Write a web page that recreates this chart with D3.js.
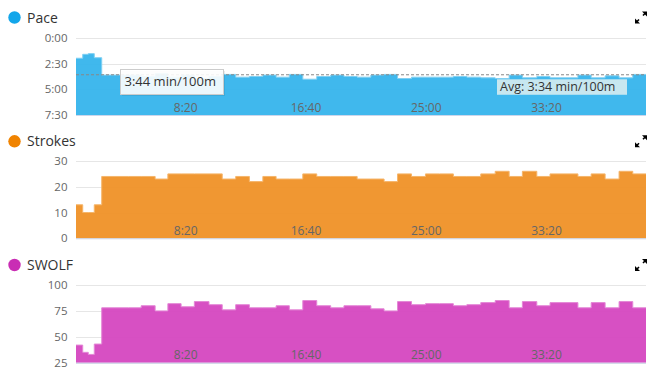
<!DOCTYPE html>
<html>
<head>
<meta charset="utf-8">
<script src="https://cdn.jsdelivr.net/npm/d3@7"></script>
<style>
  html, body { margin: 0; padding: 0; background: #fff; }
  svg { display: block; font-family: "Open Sans", "DejaVu Sans", sans-serif; }
</style>
</head>
<body>
<svg id="chart"></svg>
<script>
// Swim laps: duration of each lap (s), and per-lap pace / strokes / swolf
const startSec = 50;
const lapSeconds = [28, 23, 25, 31, 55, 56, 53, 58, 53, 55, 55, 61, 55, 56, 57, 56, 55, 55, 56, 58,
                    58, 55, 55, 57, 55, 56, 58, 58, 58, 58, 56, 58, 60, 58, 55, 60, 55, 58, 58, 55,
                    58, 58, 57, 55];
const paceSec = [117, 94, 90, 114, 216, 216, 216, 224, 208, 228, 216, 236, 224, 212, 228, 224, 216, 228, 212, 240,
                 224, 216, 224, 228, 216, 212, 236, 228, 228, 228, 224, 228, 232, 236, 216, 232, 224, 232, 232, 216,
                 232, 220, 232, 212];
const strokes = [13, 10, 10, 13, 24, 24, 24, 24, 23, 25, 25, 25, 25, 23, 24, 22, 24, 23, 23, 25,
                 24, 24, 24, 23, 23, 22, 25, 24, 25, 25, 24, 24, 25, 26, 24, 26, 24, 25, 25, 24,
                 25, 23, 26, 25];
const swolf = [42, 35, 33, 43, 78, 78, 78, 80, 75, 82, 79, 84, 81, 76, 81, 78, 78, 80, 76, 85,
               80, 78, 80, 80, 77, 75, 84, 81, 82, 82, 80, 81, 83, 85, 78, 84, 80, 83, 83, 78,
               83, 78, 84, 78];
const xTicks = [500, 1000, 1500, 2000];
const paceTicks = [0, 150, 300, 450];
const strokeTicks = [0, 10, 20, 30];
const swolfTicks = [25, 50, 75, 100];
const avgPace = 214;
const hoverPace = 224;

(function () {
    const W = 654, H = 371, LEFT = 76, RIGHT = 646;
    const svg = d3.select("#chart").attr("width", W).attr("height", H);

    const fmtTime = s => Math.floor(s / 60) + ":" + String(s % 60).padStart(2, "0");
    const bounds = [startSec].concat(Array.from(d3.cumsum(lapSeconds), c => startSec + c));
    const x = d3.scaleLinear().domain([startSec, bounds[bounds.length - 1]]).range([LEFT, RIGHT]);

    const panels = [
        { title: "Pace", dot: "#13a6ea", fill: "#36b4ec", edge: "#7fd0f3", values: paceSec,
          domain: [0, 450], top: 38.3, bottom: 115, titleY: 17.5, ticks: paceTicks, fmt: fmtTime,
          base: 450, reversed: true },
        { title: "Strokes", dot: "#f08300", fill: "#ef9127", edge: "#f5b56a", values: strokes,
          domain: [0, 30], top: 161, bottom: 238.3, titleY: 141.3, ticks: strokeTicks, fmt: d => d,
          base: 0 },
        { title: "SWOLF", dot: "#c92db4", fill: "#d547c0", edge: "#e487d6", values: swolf,
          domain: [25, 100], top: 285, bottom: 362.7, titleY: 265, ticks: swolfTicks, fmt: d => d,
          base: 25 }
    ];

    panels.forEach(p => {
        const g = svg.append("g");
        const y = d3.scaleLinear().domain(p.domain)
            .range(p.reversed ? [p.top, p.bottom] : [p.bottom, p.top]);

        // title + dot
        g.append("circle").attr("cx", 14.5).attr("cy", p.titleY).attr("r", 6.2).attr("fill", p.dot);
        g.append("text").attr("x", 27).attr("y", p.titleY + 5)
            .attr("font-size", 14).attr("fill", "#333").text(p.title);

        // expand icon
        const ic = g.append("g").attr("transform", `translate(641,${p.titleY})`).attr("fill", "#000");
        ic.append("path").attr("d", "M1,-6 L6,-6 L6,-1 Z");
        ic.append("path").attr("d", "M-1,6 L-6,6 L-6,1 Z");
        ic.append("path").attr("d", "M2,-2 L4,-4 M-2,2 L-4,4").attr("stroke", "#000").attr("stroke-width", 1.6);

        // grid
        g.selectAll(".grid").data(p.ticks).join("line")
            .attr("x1", LEFT).attr("x2", RIGHT)
            .attr("y1", d => Math.round(y(d)) + 0.5).attr("y2", d => Math.round(y(d)) + 0.5)
            .attr("stroke", "#e6e6e6");
        g.selectAll(".ylab").data(p.ticks).join("text")
            .attr("x", 67.5).attr("y", d => y(d) + 4)
            .attr("text-anchor", "end").attr("font-size", 11.5).attr("fill", "#666")
            .text(p.fmt);

        // step area
        const pts = p.values.map((v, i) => ({ t: bounds[i], v }))
            .concat([{ t: bounds[p.values.length], v: p.values[p.values.length - 1] }]);
        const area = d3.area().curve(d3.curveStepAfter)
            .x(d => x(d.t)).y0(y(p.base)).y1(d => y(d.v));
        const line = d3.line().curve(d3.curveStepAfter)
            .x(d => x(d.t)).y(d => y(d.v));
        g.append("path").datum(pts).attr("d", area).attr("fill", p.fill).attr("fill-opacity", 0.95);
        g.append("path").datum(pts).attr("d", line).attr("fill", "none")
            .attr("stroke", p.edge).attr("stroke-width", 1);

        // x axis line + labels
        g.append("line").attr("x1", LEFT).attr("x2", RIGHT)
            .attr("y1", p.bottom + 0.5).attr("y2", p.bottom + 0.5).attr("stroke", "#ccd6eb");
        g.selectAll(".xlab").data(xTicks).join("text")
            .attr("x", d => x(d) + 1.5).attr("y", p.bottom - 3.5)
            .attr("text-anchor", "middle").attr("font-size", 12).attr("fill", "#666")
            .text(fmtTime);

        if (p.reversed) {
            // average line
            g.append("line").attr("x1", LEFT).attr("x2", RIGHT)
                .attr("y1", y(avgPace)).attr("y2", y(avgPace))
                .attr("stroke", "#888").attr("stroke-dasharray", "3,2");
            const avg = g.append("g").attr("transform", `translate(497,${y(avgPace) + 4.5})`);
            avg.append("rect").attr("width", 130).attr("height", 15.5).attr("fill", "#c7e7f0");
            avg.append("text").attr("x", 3).attr("y", 12).attr("font-size", 12.5).attr("fill", "#333")
                .text(`Avg: ${fmtTime(avgPace)} min/100m`);

            // hover tooltip
            const tip = g.append("g").attr("transform", "translate(120.5,69.5)");
            tip.append("rect").attr("x", 1.5).attr("y", 1.5).attr("width", 103).attr("height", 25)
                .attr("fill", "#000").attr("opacity", 0.08);
            tip.append("rect").attr("width", 103).attr("height", 25)
                .attr("fill", "#fff").attr("fill-opacity", 0.9).attr("stroke", "#ccc");
            tip.append("text").attr("x", 4).attr("y", 16.5).attr("font-size", 13).attr("fill", "#333")
                .text(`${fmtTime(hoverPace)} min/100m`);
        }
    });
})();
</script>
</body>
</html>
